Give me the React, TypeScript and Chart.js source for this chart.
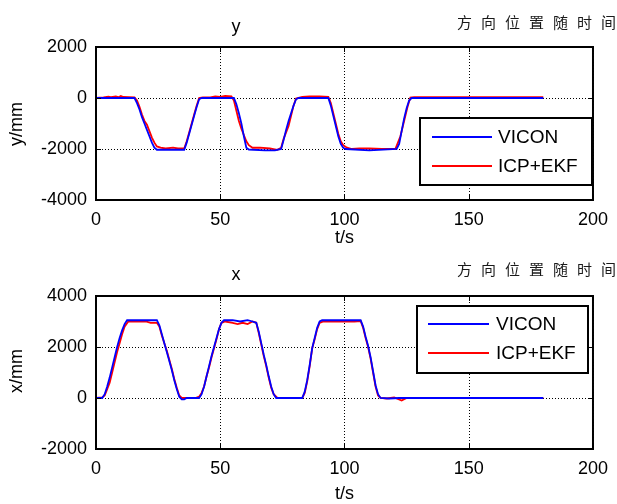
import React, { useEffect, useRef } from "react";
import { Chart, registerables } from "chart.js";

Chart.register(...registerables);

// ---------- data ----------
const xTicks = [0, 50, 100, 150, 200];
const yTopTicks = [-4000, -2000, 0, 2000];
const yBotTicks = [-2000, 0, 2000, 4000];
const legendLabels = ["VICON", "ICP+EKF"];

// top subplot: y-direction position (mm) vs time (s)
const yViconT = [0, 8, 15.5, 16.5, 17.5, 18.5, 19.5, 20.5, 21.5, 22.5, 23.5, 24.5, 30, 35.5, 36.5, 37.5, 38.5, 39.5, 40.5, 41.5, 42.5, 50, 55.5, 56.5, 57.5, 58.5, 59.5, 60.5, 61.5, 68, 72, 74.5, 75.5, 76.5, 77.5, 78.5, 79.5, 80.5, 81.5, 88, 93.5, 94.5, 95.5, 96.5, 97.5, 98.5, 99.5, 100.5, 110, 121, 122, 123, 124, 125, 126, 127, 180];
const yViconV = [0, 0, 0, -200, -450, -750, -1000, -1250, -1500, -1750, -1950, -2030, -2030, -2030, -1750, -1400, -1050, -700, -350, -50, 0, 0, 0, -250, -600, -1000, -1500, -1950, -2020, -2050, -2050, -2000, -1650, -1250, -900, -600, -300, -50, 0, 0, 0, -300, -700, -1100, -1500, -1800, -1950, -2000, -2050, -2000, -1800, -1300, -800, -400, -100, 0, 0];

const yEkfT = [0, 3, 5, 6, 8, 9, 10, 11, 15.5, 16.5, 17.5, 18.5, 19.5, 20.5, 21.5, 22.5, 23.5, 24.5, 26, 28, 31, 33, 35.5, 36.5, 37.5, 38.5, 39.5, 40.5, 41.5, 43, 46, 48, 50, 52, 54.5, 55.5, 56.5, 57.5, 58.5, 59.5, 60.5, 61.5, 63, 66, 70, 73, 74.5, 75.5, 76.5, 77.5, 78.5, 79.5, 80.5, 83, 86, 90, 93.5, 94.5, 95.5, 96.5, 97.5, 98.5, 99.5, 101, 103, 106, 110, 115, 120.5, 121.5, 122.5, 123.5, 124.5, 125.5, 126.5, 128, 180];
const yEkfV = [0, 20, 50, 30, 60, 30, 80, 40, 20, -100, -350, -650, -900, -1050, -1300, -1550, -1750, -1900, -1950, -1980, -1950, -1980, -1980, -1700, -1350, -1000, -650, -300, 0, 20, 20, 60, 40, 80, 60, -100, -500, -900, -1200, -1450, -1700, -1850, -1950, -1950, -1980, -2030, -1950, -1600, -1350, -1100, -700, -300, -20, 40, 60, 60, 40, -200, -600, -1000, -1400, -1700, -1850, -1950, -2000, -1980, -1980, -2000, -1990, -1750, -1500, -1100, -700, -300, 20, 30, 30];

// bottom subplot: x-direction position (mm) vs time (s)
const xViconT = [0, 2.5, 3.5, 4.5, 5.5, 6.5, 7.5, 8.5, 9.5, 10.5, 11.5, 12.5, 18, 24.5, 25.5, 26.5, 27.5, 28.5, 29.5, 30.5, 31.5, 32.5, 33.5, 34.5, 35.5, 36.5, 41.5, 42.5, 43.5, 44.5, 45.5, 46.5, 47.5, 48.5, 49.5, 50.5, 51.5, 55, 58, 61, 63, 64.5, 65.5, 66.5, 67.5, 68.5, 69.5, 70.5, 71.5, 72.5, 83, 84, 85, 86, 87, 88, 89, 90, 91, 100, 106.5, 107.5, 108.5, 109.5, 110.5, 111.5, 112.5, 113.5, 114.5, 118, 122, 126, 180];
const xViconV = [0, 0, 150, 450, 800, 1200, 1600, 2000, 2350, 2650, 2900, 3050, 3050, 3050, 2850, 2500, 2150, 1800, 1450, 1100, 700, 350, 50, -50, -50, 0, 0, 150, 450, 850, 1250, 1650, 2000, 2350, 2700, 2950, 3050, 3050, 3000, 3050, 3000, 2950, 2600, 2150, 1700, 1300, 850, 450, 150, 0, 0, 250, 700, 1300, 1950, 2350, 2750, 3000, 3050, 3050, 3050, 2800, 2400, 2050, 1600, 1050, 500, 150, 0, -20, 0, 0, 0];

const xEkfT = [0, 2.5, 3.5, 4.5, 5.5, 6.5, 7.5, 8.5, 9.5, 10.5, 11.5, 13, 16, 20, 22, 24.5, 25.5, 26.5, 27.5, 28.5, 29.5, 30.5, 31.5, 32.5, 33.5, 34.5, 40, 41.5, 42.5, 43.5, 44.5, 45.5, 46.5, 47.5, 48.5, 49.5, 50.5, 52, 55, 57, 59, 61, 63, 64.5, 65.5, 66.5, 67.5, 68.5, 69.5, 70.5, 71.5, 73, 83, 84, 85, 86, 87, 88, 89, 90, 91.5, 95, 100, 104, 106.5, 107.5, 108.5, 109.5, 110.5, 111.5, 112.5, 113.5, 114.5, 117, 120, 123, 125, 180];
const xEkfV = [0, 20, 100, 350, 600, 1000, 1400, 1800, 2150, 2500, 2800, 3000, 3000, 3000, 2950, 2950, 2800, 2450, 2150, 1850, 1500, 1150, 750, 400, 100, 0, 0, 50, 200, 450, 850, 1200, 1600, 1950, 2300, 2700, 2950, 3000, 2950, 2900, 2950, 2900, 3000, 2950, 2550, 2100, 1650, 1250, 800, 400, 150, 0, 0, 200, 650, 1250, 1950, 2300, 2700, 2950, 3000, 3000, 3000, 3000, 3020, 2750, 2350, 2000, 1550, 1000, 450, 100, 0, -20, 20, -100, 0, 0];

const toPts = (t: number[], v: number[]) => t.map((x, i) => ({ x, y: v[i] }));

const FONT = "'Liberation Sans', Arial, sans-serif";

type Deco = {
  title: string;
  titleY: number;
  cnY: number;
  ylabel: string;
  ylabelY: number;
  xlabelY: number;
  legend: { l: number; t: number; r: number; b: number; l1: number; l2: number; sx1: number; sx2: number; tx: number };
};

function makeDecoPlugin(d: Deco) {
  return {
    id: "deco",
    beforeDatasetsDraw(chart: any) {
      const { ctx, chartArea: a, scales } = chart;
      ctx.save();
      ctx.strokeStyle = "#000";
      ctx.lineWidth = 1;
      ctx.setLineDash([1, 2]);
      scales.x.ticks.forEach((tk: any) => {
        const px = Math.round(scales.x.getPixelForValue(tk.value)) + 0.5;
        ctx.beginPath();
        ctx.moveTo(px, a.top);
        ctx.lineTo(px, a.bottom);
        ctx.stroke();
      });
      scales.y.ticks.forEach((tk: any) => {
        const py = Math.round(scales.y.getPixelForValue(tk.value)) + 0.5;
        ctx.beginPath();
        ctx.moveTo(a.left, py);
        ctx.lineTo(a.right, py);
        ctx.stroke();
      });
      ctx.restore();
    },
    afterDatasetsDraw(chart: any) {
      const { ctx, chartArea: a, scales, data } = chart;
      ctx.save();
      // box
      ctx.strokeStyle = "#000";
      ctx.lineWidth = 2;
      ctx.strokeRect(a.left, a.top, a.right - a.left, a.bottom - a.top);
      // inward tick marks
      ctx.lineWidth = 1;
      const tl = 5;
      scales.x.ticks.forEach((tk: any) => {
        const px = Math.round(scales.x.getPixelForValue(tk.value)) + 0.5;
        ctx.beginPath();
        ctx.moveTo(px, a.bottom);
        ctx.lineTo(px, a.bottom - tl);
        ctx.moveTo(px, a.top);
        ctx.lineTo(px, a.top + tl);
        ctx.stroke();
      });
      scales.y.ticks.forEach((tk: any) => {
        const py = Math.round(scales.y.getPixelForValue(tk.value)) + 0.5;
        ctx.beginPath();
        ctx.moveTo(a.left, py);
        ctx.lineTo(a.left + tl, py);
        ctx.moveTo(a.right, py);
        ctx.lineTo(a.right - tl, py);
        ctx.stroke();
      });
      // legend
      const L = d.legend;
      ctx.fillStyle = "#fff";
      ctx.fillRect(L.l, L.t, L.r - L.l, L.b - L.t);
      ctx.lineWidth = 2;
      ctx.strokeStyle = "#000";
      ctx.strokeRect(L.l, L.t, L.r - L.l, L.b - L.t);
      const ys = [L.l1, L.l2];
      data.datasets.forEach((ds: any, i: number) => {
        ctx.strokeStyle = ds.borderColor;
        ctx.lineWidth = 2;
        ctx.beginPath();
        ctx.moveTo(L.sx1, ys[i]);
        ctx.lineTo(L.sx2, ys[i]);
        ctx.stroke();
        ctx.fillStyle = "#000";
        ctx.font = `19px ${FONT}`;
        ctx.textAlign = "left";
        ctx.textBaseline = "middle";
        ctx.fillText(ds.label, L.tx, ys[i] + 1);
      });
      ctx.restore();
    },
    afterDraw(chart: any) {
      const { ctx, chartArea: a } = chart;
      ctx.save();
      ctx.fillStyle = "#000";
      ctx.font = `18px ${FONT}`;
      ctx.textAlign = "center";
      ctx.textBaseline = "middle";
      ctx.fillText(d.title, 236, d.titleY);
      ctx.fillText("t/s", (a.left + a.right) / 2, d.xlabelY);
      ctx.save();
      ctx.translate(17.5, d.ylabelY);
      ctx.rotate(-Math.PI / 2);
      ctx.fillText(d.ylabel, 0, 0);
      ctx.restore();
      // Chinese caption (partly cut off on the right)
      ctx.fillStyle = "#1a1a1a";
      ctx.font = `400 15px 'Noto Sans CJK SC', sans-serif`;
      ctx.textAlign = "left";
      const cn = "方向位置随时间";
      for (let i = 0; i < cn.length; i++) {
        ctx.fillText(cn[i], 457 + i * 24, d.cnY);
      }
      ctx.restore();
    },
  };
}

function makeConfig(
  vicon: { x: number; y: number }[],
  ekf: { x: number; y: number }[],
  yTicks: number[],
  padTop: number,
  xHeight: number,
  deco: Deco
): any {
  return {
    type: "line",
    data: {
      datasets: [
        { label: legendLabels[0], data: vicon, borderColor: "#0000ff", borderWidth: 1.8, pointRadius: 0, tension: 0 },
        { label: legendLabels[1], data: ekf, borderColor: "#ff0000", borderWidth: 1.8, pointRadius: 0, tension: 0 },
      ],
    },
    options: {
      responsive: false,
      animation: false,
      devicePixelRatio: 1,
      layout: { padding: { left: 0, right: 23, top: padTop, bottom: 0 } },
      plugins: { legend: { display: false }, title: { display: false }, tooltip: { enabled: false } },
      scales: {
        x: {
          type: "linear",
          min: xTicks[0],
          max: xTicks[xTicks.length - 1],
          afterBuildTicks: (s: any) => {
            s.ticks = xTicks.map((v) => ({ value: v }));
          },
          afterFit: (s: any) => {
            s.height = xHeight;
          },
          grid: { display: false, drawTicks: false },
          border: { display: false },
          ticks: { color: "#000", font: { family: FONT, size: 18 }, padding: 9, maxRotation: 0, autoSkip: false, callback: (v: any) => String(v) },
        },
        y: {
          type: "linear",
          min: yTicks[0],
          max: yTicks[yTicks.length - 1],
          afterBuildTicks: (s: any) => {
            s.ticks = yTicks.map((v) => ({ value: v }));
          },
          afterFit: (s: any) => {
            s.width = 96;
          },
          grid: { display: false, drawTicks: false },
          border: { display: false },
          ticks: { color: "#000", font: { family: FONT, size: 18 }, padding: 9, autoSkip: false, callback: (v: any) => String(v) },
        },
      },
    },
    plugins: [makeDecoPlugin(deco)],
  };
}

export default function App() {
  const topRef = useRef<HTMLCanvasElement>(null);
  const botRef = useRef<HTMLCanvasElement>(null);

  useEffect(() => {
    const c1 = new Chart(
      topRef.current!,
      makeConfig(toPts(yViconT, yViconV), toPts(yEkfT, yEkfV), yTopTicks, 47, 50, {
        title: "y",
        titleY: 27,
        cnY: 22.5,
        ylabel: "y/mm",
        ylabelY: 124,
        xlabelY: 238,
        legend: { l: 420, t: 118, r: 592, b: 185, l1: 137, l2: 166, sx1: 432, sx2: 492, tx: 498 },
      })
    );
    const c2 = new Chart(
      botRef.current!,
      makeConfig(toPts(xViconT, xViconV), toPts(xEkfT, xEkfV), yBotTicks, 46, 55, {
        title: "x",
        titleY: 25,
        cnY: 19,
        ylabel: "x/mm",
        ylabelY: 121,
        xlabelY: 244,
        legend: { l: 417, t: 56, r: 588, b: 123, l1: 74, l2: 103, sx1: 428, sx2: 489, tx: 496 },
      })
    );
    return () => {
      c1.destroy();
      c2.destroy();
    };
  }, []);

  return (
    <div style={{ position: "absolute", left: 0, top: 0, width: 617, height: 504, background: "#fff", overflow: "hidden" }}>
      <canvas ref={topRef} width={617} height={250} style={{ position: "absolute", left: 0, top: 0, width: 617, height: 250 }} />
      <canvas ref={botRef} width={617} height={254} style={{ position: "absolute", left: 0, top: 250, width: 617, height: 254 }} />
    </div>
  );
}
